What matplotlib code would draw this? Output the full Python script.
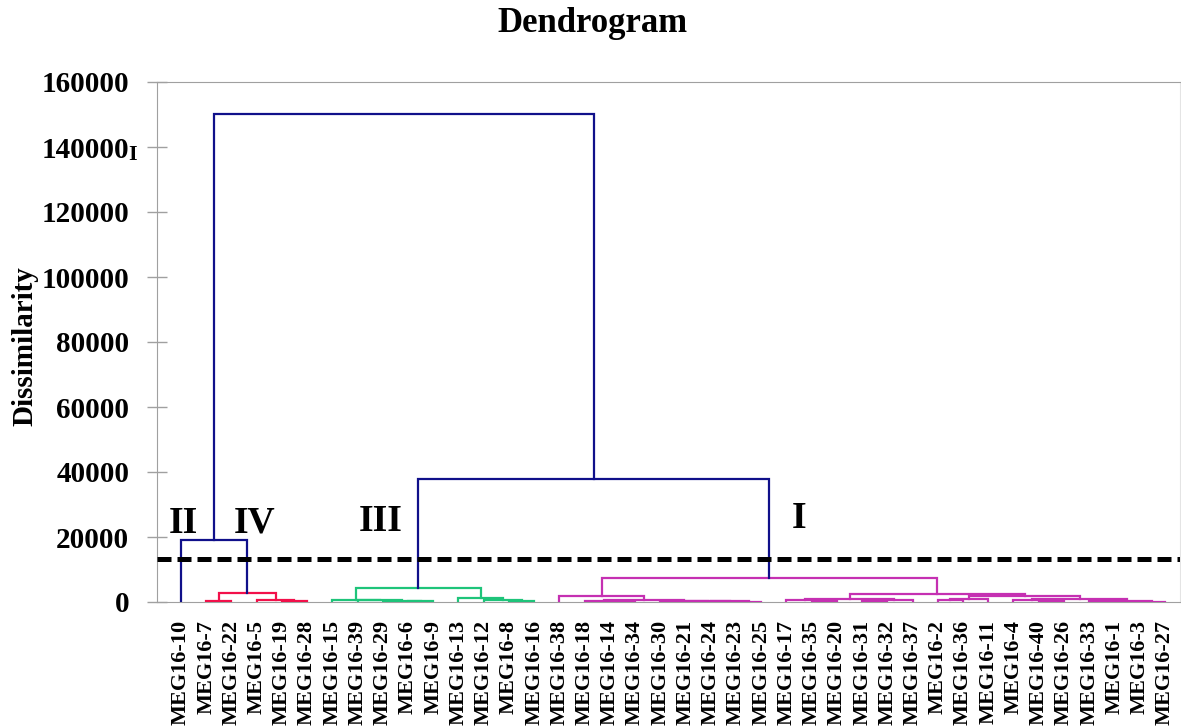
import numpy as np
import matplotlib
matplotlib.use('Agg')
import matplotlib.pyplot as plt

plt.rcParams['font.family'] = ['Liberation Serif', 'DejaVu Serif']
plt.rcParams['font.weight'] = 'bold'

# leaves in the order they appear along the x axis
labels = ['MEG16-10', 'MEG16-7', 'MEG16-22', 'MEG16-5', 'MEG16-19', 'MEG16-28',
          'MEG16-15', 'MEG16-39', 'MEG16-29', 'MEG16-6', 'MEG16-9', 'MEG16-13',
          'MEG16-12', 'MEG16-8', 'MEG16-16', 'MEG16-38', 'MEG16-18', 'MEG16-14',
          'MEG16-34', 'MEG16-30', 'MEG16-21', 'MEG16-24', 'MEG16-23', 'MEG16-25',
          'MEG16-17', 'MEG16-35', 'MEG16-20', 'MEG16-31', 'MEG16-32', 'MEG16-37',
          'MEG16-2', 'MEG16-36', 'MEG16-11', 'MEG16-4', 'MEG16-40', 'MEG16-26',
          'MEG16-33', 'MEG16-1', 'MEG16-3', 'MEG16-27']

# merges, linkage style: node id of merge k is len(labels) + k
merge_a = [1, 4, 3, 40, 0,
           9, 8, 7, 6, 13, 12, 11, 48,
           17, 16, 22, 21, 20, 19, 54, 15,
           25, 24, 27, 63, 62,
           30, 66, 34, 33, 36, 38, 70, 69, 67, 65, 60,
           52, 44]
merge_b = [2, 5, 41, 42, 43,
           10, 45, 46, 47, 14, 49, 50, 51,
           18, 53, 23, 55, 56, 57, 58, 59,
           26, 61, 28, 29, 64,
           31, 32, 35, 68, 37, 39, 71, 72, 73, 74, 75,
           76, 77]
merge_h = [300, 300, 600, 2800, 19000,
           200, 350, 500, 650, 300, 600, 1100, 4300,
           300, 450, 150, 250, 350, 450, 700, 1950,
           300, 600, 300, 600, 1000,
           500, 800, 300, 600, 300, 150, 450, 1000, 1950, 2450, 7500,
           37800, 150000]
merge_c = ['IV', 'IV', 'IV', 'IV', 'top',
           'III', 'III', 'III', 'III', 'III', 'III', 'III', 'III',
           'I', 'I', 'I', 'I', 'I', 'I', 'I', 'I',
           'I', 'I', 'I', 'I', 'I',
           'I', 'I', 'I', 'I', 'I', 'I', 'I', 'I', 'I', 'I', 'I',
           'top', 'top']

colors = {'top': '#10108A', 'IV': '#F2104A', 'III': '#1EC47A', 'I': '#C530B2'}

cut_level = 13200
group_names = ['II', 'IV', 'III', 'I']
group_x = [0.08, 2.9, 7.9, 24.5]
group_y = [24300, 24300, 24800, 25800]

fig = plt.figure(figsize=(11.81, 7.27), dpi=100)
ax = fig.add_axes([157 / 1181, 1 - 602 / 727, (1180 - 157) / 1181, (602 - 82) / 727])

n = len(labels)
pos = {i: float(i) for i in range(n)}
hgt = {i: 0.0 for i in range(n)}
for k in range(len(merge_a)):
    a, b, h = merge_a[k], merge_b[k], merge_h[k]
    xa, xb = pos[a], pos[b]
    ax.plot([xa, xa, xb, xb], [hgt[a], h, h, hgt[b]], color=colors[merge_c[k]],
            lw=1.6, solid_joinstyle='miter', zorder=3)
    pos[n + k] = (xa + xb) / 2
    hgt[n + k] = h

ax.axhline(cut_level, color='black', lw=3.6, dashes=(2.8, 1.2), zorder=4)

for name, gx, gy in zip(group_names, group_x, group_y):
    ax.text(gx, gy, name, fontsize=27, fontweight='bold', ha='center', va='center')

ax.set_xlim(-0.95, 39.6)
ax.set_ylim(0, 160000)
ax.set_yticks(np.arange(0, 160001, 20000))
ax.set_yticklabels([str(v) for v in range(0, 160001, 20000)], fontsize=21, fontweight='bold')
ax.tick_params(axis='y', direction='inout', length=14, width=1, color='#a0a0a0', pad=13)
ax.set_xticks(range(n))
ax.set_xticklabels(labels, rotation=90, fontsize=16, fontweight='bold', va='top')
ax.tick_params(axis='x', length=0, pad=13)

for side in ['left', 'top', 'bottom']:
    ax.spines[side].set_color('#a0a0a0')
ax.spines['right'].set_color('#e4e4e4')

fig.text(592 / 1181, 1 - 24 / 727, 'Dendrogram', fontsize=25, fontweight='bold',
         ha='center', va='center')
fig.text(25 / 1181, 1 - 346 / 727, 'Dissimilarity', fontsize=21, fontweight='bold',
         rotation=90, ha='center', va='center')
fig.text(133 / 1181, 1 - 155 / 727, 'I', fontsize=16, fontweight='bold',
         ha='center', va='center')

fig.savefig('out.png', dpi=100)
